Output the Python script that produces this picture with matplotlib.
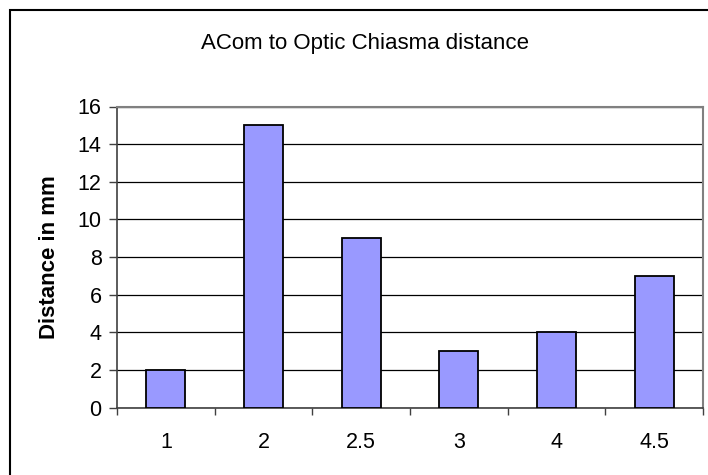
import matplotlib
matplotlib.use("Agg")
import matplotlib.pyplot as plt
from matplotlib.patches import Rectangle

plt.rcParams['font.family'] = ['Liberation Sans', 'DejaVu Sans']

categories = ["1", "2", "2.5", "3", "4", "4.5"]
distances = [2, 15, 9, 3, 4, 7]
y_ticks = [0, 2, 4, 6, 8, 10, 12, 14, 16]

W, H = 708, 475
fig = plt.figure(figsize=(W / 100, H / 100), dpi=100)

# chart frame (runs off the right and bottom edges)
fig.patches.append(Rectangle((9.5 / W, -0.1), 1.2, 1 - 9.5 / H + 0.1,
                             transform=fig.transFigure, fill=False,
                             edgecolor='black', linewidth=1.5))

left, right, top, bottom = 117, 703, 106.5, 407.5
ax = fig.add_axes([left / W, 1 - bottom / H, (right - left) / W, (bottom - top) / H])

x = list(range(len(categories)))
ax.bar(x, distances, width=0.4, color='#9999FF', edgecolor='black',
       linewidth=1.3, zorder=3)

ax.set_xlim(-0.5, len(categories) - 0.5)
ax.set_ylim(0, 16)
ax.set_yticks(y_ticks)
ax.set_yticklabels([str(v) for v in y_ticks])
ax.yaxis.grid(True, color='black', linewidth=0.9, zorder=1)
ax.set_axisbelow(True)

# category labels centred, ticks at category boundaries
ax.set_xticks(x)
ax.set_xticklabels(categories)
ax.tick_params(axis='x', length=0, pad=18, labelsize=15.5)
ax.set_xticks([i - 0.5 for i in range(len(categories) + 1)], minor=True)
ax.tick_params(axis='x', which='minor', length=5, width=1, color='#404040', direction='out')
ax.tick_params(axis='y', length=6, width=1, color='#404040', direction='out',
               labelsize=15.5, pad=5)

for side in ['top', 'right']:
    ax.spines[side].set_color('#808080')
    ax.spines[side].set_linewidth(1.5)
for side in ['left', 'bottom']:
    ax.spines[side].set_color('#404040')
    ax.spines[side].set_linewidth(1.2)

ax.yaxis.set_label_coords(-(117 - 50) / (right - left), 0.5)
ax.set_ylabel("Distance in mm", fontsize=16, fontweight='bold', va='center')
fig.text(365 / W, 1 - 44 / H, "ACom to Optic Chiasma distance", ha='center',
         va='center', fontsize=16)

fig.savefig("out.png", dpi=100)
